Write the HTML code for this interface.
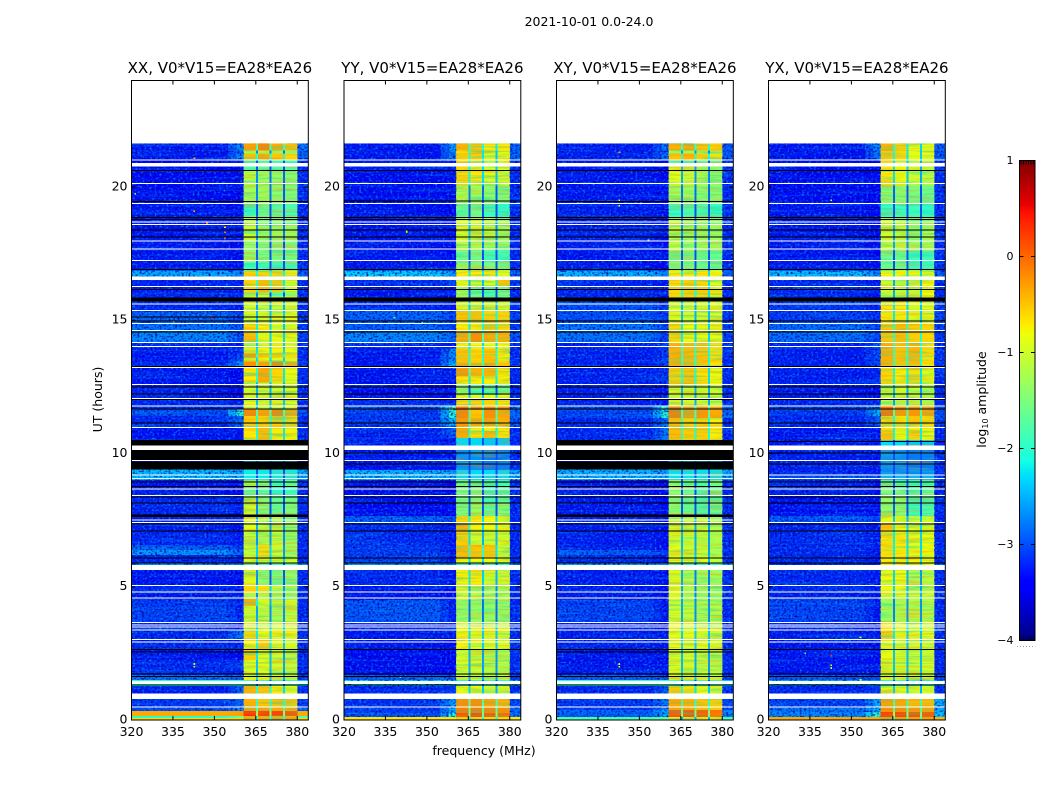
<!DOCTYPE html>
<html lang="en">
<head>
<meta charset="utf-8">
<title>2021-10-01 0.0-24.0 spectrogram</title>
<style>
html,body{margin:0;padding:0;background:#fff;}
svg{display:block;}
text{font-family:"DejaVu Sans","Liberation Sans",sans-serif;fill:#000;}
</style>
</head>
<body>
<svg id="chart" xmlns="http://www.w3.org/2000/svg" width="1050" height="800" viewBox="0 0 1050 800">
  <defs id="chart-defs">
    <filter id="speckLight" x="0" y="0" width="100%" height="100%" color-interpolation-filters="sRGB">
      <feTurbulence type="fractalNoise" baseFrequency="0.42 0.5" numOctaves="1" seed="4"/>
      <feColorMatrix type="matrix" values="0 0 0 0 0  0 0 0 0 0.55  0 0 0 0 1  3.0 0 0 0 -1.5"/>
    </filter>
    <filter id="speckDark" x="0" y="0" width="100%" height="100%" color-interpolation-filters="sRGB">
      <feTurbulence type="fractalNoise" baseFrequency="0.45 0.55" numOctaves="1" seed="11"/>
      <feColorMatrix type="matrix" values="0 0 0 0 0  0 0 0 0 0  0 0 0 0 0.6  0 3.0 0 0 -1.4"/>
    </filter>
    <filter id="bgStreak" x="0" y="0" width="100%" height="100%" color-interpolation-filters="sRGB">
      <feTurbulence type="fractalNoise" baseFrequency="0.01 0.4" numOctaves="2" seed="23"/>
      <feColorMatrix type="matrix" values="0 0 0 0 0  0 0 0 0 0.7  0 0 0 0 1  2.4 0 0 0 -1.15"/>
    </filter>
    <filter id="streakWarm" x="0" y="0" width="100%" height="100%" color-interpolation-filters="sRGB">
      <feTurbulence type="fractalNoise" baseFrequency="0.03 0.45" numOctaves="2" seed="7"/>
      <feColorMatrix type="matrix" values="0 0 0 0 1  0 0 0 0 0.55  0 0 0 0 0  3.0 0 0 0 -1.35"/>
    </filter>
    <filter id="streakCool" x="0" y="0" width="100%" height="100%" color-interpolation-filters="sRGB">
      <feTurbulence type="fractalNoise" baseFrequency="0.03 0.45" numOctaves="2" seed="31"/>
      <feColorMatrix type="matrix" values="0 0 0 0 0  0 0 0 0 0.85  0 0 0 0 0.75  3.0 0 0 0 -1.35"/>
    </filter>
  </defs>
  <text x="589" y="26" font-size="12.5" text-anchor="middle">2021-10-01 0.0-24.0</text>
  <text x="484" y="755" font-size="12.5" text-anchor="middle">frequency (MHz)</text>
  <text x="102" y="399.5" font-size="12.5" text-anchor="middle" transform="rotate(-90 102 399.5)">UT (hours)</text>
  <text x="986" y="399.5" font-size="12.5" text-anchor="middle" transform="rotate(-90 986 399.5)">log<tspan font-size="8" dy="2">10</tspan><tspan dy="-2"> amplitude</tspan></text>
  <g id="panels"></g>
  <g id="colorbar"></g>
</svg>
<script>
// ---------- chart data (hours, MHz, log10 amplitude) ----------
const panelNames = ["XX", "YY", "XY", "YX"];
const baselineLabel = "V0*V15=EA28*EA26";
const xTicks = [320, 335, 350, 365, 380];
const yTicks = [0, 5, 10, 15, 20];
const colorTicks = [-4, -3, -2, -1, 0, 1];
const colorTickLabels = ["\u22124", "\u22123", "\u22122", "\u22121", "0", "1"];
const colorMinorTicks = [0.1, 0.26, 0.42, 0.58, 0.74, 0.9];
const colorDomain = [-4, 1];
const xDomain = [320, 384];
const yDomain = [0, 24];
// frequency edges: background | shoulder ramp | shoulder | block1 | gap | block2 | gap | block3 | gap | block4 | tail
const channelEdges = [320, 355, 358, 360.6, 365.1, 365.8, 369.9, 370.6, 374.9, 375.6, 380, 384];
// index into channelEdges of the lower edge of each bright block
const blockSegments = [3, 5, 7, 9];

// flagged integrations, no data drawn (white) [low hour, high hour]
const whiteRows = [[20.97,21.03],[20.775,20.91],[20.10,20.15],[19.36,19.41],[18.66,18.71],[18.56,18.61],[17.95,18.0],[17.64,17.69],[17.21,17.26],[16.52,16.65],[16.24,16.29],[15.58,15.63],[15.33,15.38],[14.85,14.9],[14.58,14.63],[14.13,14.18],[13.98,14.03],[13.2,13.25],[12.56,12.61],[12.04,12.09],[11.76,11.81],[10.95,11.0],[10.125,10.31],[9.70,9.75],[9.15,9.21],[9.04,9.09],[8.63,8.68],[8.39,8.44],[7.39,7.44],[5.625,5.81],[5.01,5.06],[4.77,4.82],[4.54,4.59],[3.63,3.68],[3.54,3.59],[3.45,3.5],[3.35,3.4],[2.99,3.04],[2.89,2.94],[1.35,1.47],[0.79,1.0],[0.45,0.5]];
// zero-amplitude integrations (black) [low hour, high hour]
const blackRows = [[20.59,20.64],[18.82,18.87],[18.77,18.81],[18.35,18.4],[18.1,18.15],[16.88,16.93],[16.13,16.18],[15.71,15.85],[14.95,15.0],[14.54,14.58],[13.25,13.29],[12.47,12.52],[12.2,12.25],[12.02,12.04],[11.64,11.69],[11.11,11.16],[8.9,8.95],[8.74,8.79],[8.36,8.39],[8.12,8.17],[7.33,7.38],[7.06,7.11],[6.05,6.1],[5.86,5.91],[2.63,2.67],[1.69,1.74],[1.61,1.66],[1.28,1.33]];
const blackRowsXX = [[19.42,19.47],[10.31,10.5],[9.75,10.125],[9.41,9.7],[7.62,7.72],[2.62,2.67],[2.53,2.58],[15.1,15.14]];
const blackRowsYY = [[19.47,19.5],[9.98,10.03],[9.58,9.63]];
const blackRowsXY = [[19.42,19.47],[10.31,10.5],[9.75,10.125],[9.41,9.7],[7.62,7.72],[2.62,2.67],[2.53,2.58]];
const blackRowsYX = [[10.42,10.47],[9.98,10.03],[9.58,9.63]];
const extraWhiteXX = [[7.48,7.52]];
const extraWhiteYY = [];
const extraWhiteXY = [[7.48,7.52]];
const extraWhiteYX = [];

// rows: [low hour, high hour, background, shoulder, block1, block2, block3, block4, tail]
const levelsXX = [
[21.375,21.64,-3.1,-2.4,-0.3,-0.15,-0.35,-0.45,-2.6],
[21.26,21.375,-3.1,-2.6,-1.3,-1.2,-1.3,-1.4,-2.7],
[21.0,21.26,-3.1,-2.4,-0.5,-0.35,-0.5,-0.6,-2.7],
[20.625,21.0,-3.2,-3.1,-1.8,-1.7,-1.8,-1.8,-3],
[20.25,20.625,-3.2,-3.2,-1.1,-1.3,-1.35,-1.4,-3],
[19.39,20.25,-3.15,-3.2,-1.25,-1.25,-1.4,-1.5,-3],
[18.94,19.39,-3.1,-3.1,-1.9,-1.6,-1.7,-1.8,-3],
[18.56,18.94,-3.1,-3.1,-1.2,-1.5,-1.5,-1.6,-3.1],
[18.0,18.56,-3.1,-3.1,-1.05,-1.3,-1.3,-1.3,-3],
[17.175,18.0,-3.1,-3.1,-1.35,-1.5,-1.5,-1.5,-3],
[16.875,17.175,-3.1,-3.1,-1.9,-1.9,-2,-1.9,-3],
[16.54,16.875,-2.3,-2.4,-0.6,-0.6,-0.6,-0.7,-2.7],
[16.05,16.54,-3.05,-3.05,-0.6,-0.45,-0.55,-0.85,-3],
[15.9,16.05,-3,-3,-1.3,-1.2,-1.8,-1.4,-3],
[15.71,15.9,-3,-3,-0.85,-0.85,-0.9,-0.9,-3],
[15.34,15.71,-3,-3,-1.0,-1.1,-1.0,-1.0,-3],
[14.89,15.34,-2.7,-2.8,-0.9,-0.95,-0.9,-0.8,-2.9],
[14.59,14.89,-2.6,-2.7,-0.6,-0.7,-0.9,-0.9,-2.9],
[14.14,14.59,-2.5,-2.7,-0.45,-0.85,-0.8,-0.85,-2.9],
[13.95,14.14,-3,-3,-0.9,-0.9,-0.9,-0.9,-3],
[13.76,13.95,-3.1,-2.9,-0.7,-0.75,-0.75,-0.8,-3],
[13.61,13.76,-3.1,-2.7,-0.3,-0.5,-0.5,-0.6,-3],
[13.46,13.61,-3.1,-2.7,-0.8,-0.8,-0.8,-0.9,-3],
[13.24,13.46,-3,-2.3,-0.2,-0.3,-0.15,-0.4,-2.9],
[12.675,13.24,-3.1,-3.1,-0.7,-0.35,-0.6,-0.85,-3],
[12.08,12.675,-3.1,-3.1,-1,-1,-1,-1,-3],
[11.66,12.08,-3,-3,-0.85,-1,-0.9,-0.9,-3],
[11.4,11.66,-2.8,-2.0,-0.15,-0.3,-0.15,-0.35,-2.8],
[10.99,11.4,-3,-2.6,-0.55,-0.55,-0.55,-0.6,-3],
[10.5,10.99,-3.1,-3,-0.7,-0.45,-0.7,-0.75,-3],
[9.41,10.5,-3.1,-3.1,-2.4,-2.4,-2.4,-2.4,-3],
[9.0,9.41,-2.2,-2.2,-2.2,-2.2,-2.2,-2.2,-2.3],
[8.74,9.0,-3.1,-3.1,-1.2,-1.5,-1.9,-1.6,-3],
[8.4,8.74,-3.1,-3.1,-1.6,-1.7,-2,-1.9,-3],
[7.725,8.4,-3,-3,-1.0,-1.45,-1.65,-1.5,-3],
[7.05,7.725,-3.05,-3.05,-0.9,-1.1,-1.1,-1.3,-3],
[6.56,7.05,-3,-3,-1.1,-1.2,-1.1,-1.3,-3],
[6.38,6.56,-2.7,-2.8,-1.05,-0.65,-1,-1.25,-3],
[6.19,6.38,-2.4,-2.6,-1.05,-0.6,-1,-1.25,-3],
[6.075,6.19,-3,-3,-0.95,-0.7,-1,-1.2,-3],
[5.89,6.075,-3,-3,-0.85,-0.85,-0.85,-0.9,-3],
[5.625,5.89,-2.4,-2.4,-1.9,-1.9,-1.9,-1.9,-2.4],
[5.025,5.625,-3.1,-3.1,-0.9,-1.4,-1.5,-1.4,-3],
[4.76,5.025,-3,-3,-0.6,-0.65,-1,-1.25,-3],
[4.54,4.76,-3.1,-3.1,-1.2,-1.2,-1.3,-1.35,-3],
[4.275,4.54,-2.9,-3,-0.4,-0.9,-1.1,-0.95,-3],
[3.675,4.275,-2.85,-3,-1.0,-1.1,-1.25,-1.1,-3],
[3.375,3.675,-3,-3,-0.8,-0.9,-0.9,-0.9,-3],
[3.0,3.375,-3,-2.5,-0.6,-0.8,-0.8,-0.85,-3],
[2.625,3.0,-3,-3,-0.75,-0.55,-0.85,-0.95,-3],
[2.25,2.625,-3.1,-3.1,-0.55,-0.9,-1,-1.2,-3],
[1.875,2.25,-3,-2.8,-0.9,-0.9,-1,-1.1,-3],
[1.69,1.875,-3,-3,-1,-0.95,-1.1,-1.2,-3],
[1.5,1.69,-2.6,-2.6,-0.85,-0.85,-1,-1.1,-2.9],
[1.275,1.5,-2.0,-2.0,-1.8,-1.8,-1.8,-1.8,-2.2],
[0.79,1.275,-3.05,-2.6,-0.4,-0.5,-0.7,-0.9,-3],
[0.45,0.79,-2.9,-2.6,-0.4,-0.5,-0.5,-0.55,-2.9],
[0.34,0.45,-2.8,-2.4,-0.3,-0.3,-0.35,-0.35,-2.7],
[0.15,0.34,-0.35,-0.3,0.3,0.25,0.2,0.1,-0.35],
[0.075,0.15,-2.0,-1.6,-0.4,-0.4,-0.4,-0.4,-1.8],
[0,0.075,-0.6,-0.6,-0.3,-0.3,-0.3,-0.3,-0.6]];

const levelsYY = [
[21.375,21.64,-3.1,-2.3,-0.4,-0.5,-0.7,-0.7,-2.7],
[21.0,21.375,-3.1,-2.4,-0.6,-0.55,-0.9,-0.9,-2.7],
[20.625,21.0,-3.05,-3.0,-0.6,-0.7,-0.9,-0.9,-3],
[20.06,20.625,-3.15,-3.2,-0.6,-0.7,-0.9,-1.0,-3],
[19.39,20.06,-3.15,-3.2,-1.2,-1.3,-1.4,-1.5,-3],
[18.86,19.39,-3.1,-3.1,-1.7,-1.6,-1.9,-2.0,-3],
[18.0,18.86,-3.1,-3.1,-0.9,-0.95,-1.1,-1.3,-3],
[17.625,18.0,-3.1,-3.1,-1.1,-1.2,-1.3,-1.4,-3],
[17.175,17.625,-3.1,-3.1,-1.6,-1.6,-1.9,-1.9,-3],
[16.875,17.175,-3.1,-3.1,-1.3,-1.4,-1.5,-1.5,-3],
[16.54,16.875,-2.1,-2.3,-0.7,-0.7,-0.7,-0.9,-2.7],
[16.275,16.54,-2.95,-2.7,-0.9,-1.0,-0.9,-0.5,-3],
[15.75,16.275,-3.1,-3.1,-1.3,-1.6,-1.8,-1.6,-3],
[15.375,15.75,-3,-3,-0.9,-0.9,-1.0,-0.95,-3],
[14.96,15.375,-2.7,-2.8,-0.5,-0.5,-0.6,-0.6,-2.9],
[14.55,14.96,-2.7,-2.8,-0.7,-0.7,-0.55,-0.6,-2.9],
[14.175,14.55,-2.5,-2.6,-0.35,-0.2,-0.35,-0.4,-2.8],
[13.95,14.175,-3,-3,-0.8,-0.8,-0.8,-0.8,-3],
[13.425,13.95,-3.1,-2.4,-0.5,-0.6,-0.5,-0.7,-3],
[13.2,13.425,-3.1,-2.1,-0.35,-0.45,-0.35,-0.5,-2.9],
[12.9,13.2,-3.1,-3.1,-0.25,-0.4,-0.4,-0.7,-3],
[12.6,12.9,-3.1,-3.1,-0.7,-0.7,-0.7,-0.7,-3],
[12.19,12.6,-3.2,-3.2,-1.4,-1.7,-1.7,-1.6,-3],
[12.04,12.19,-3.1,-3.1,-0.8,-0.85,-0.8,-0.85,-3],
[11.775,12.04,-3,-2.9,-0.6,-0.6,-0.6,-0.65,-3],
[11.625,11.775,-2.8,-1.8,0.0,-0.2,-0.2,-0.25,-2.6],
[11.325,11.625,-2.9,-2.0,-0.15,-0.5,-0.2,-0.35,-2.7],
[11.025,11.325,-2.9,-2.1,-0.25,-0.35,-0.3,-0.4,-2.8],
[10.84,11.025,-3,-2.6,-0.35,-0.7,-0.7,-0.7,-3],
[10.575,10.84,-3.05,-2.7,-0.35,-0.65,-0.45,-0.65,-3],
[10.31,10.575,-3.1,-3.0,-2.3,-2.3,-2.4,-2.4,-3],
[9.375,10.31,-3.1,-3.0,-2.7,-2.7,-2.8,-2.8,-3],
[9.0,9.375,-2.25,-2.25,-2.3,-2.3,-2.3,-2.3,-2.3],
[8.74,9.0,-3.1,-3.1,-1.6,-1.7,-1.8,-1.9,-3],
[8.14,8.74,-3.15,-3.15,-1.5,-1.5,-1.9,-1.7,-3],
[7.65,8.14,-3.15,-3.15,-1.5,-1.3,-1.65,-1.45,-3],
[7.425,7.65,-2.7,-2.7,-0.6,-0.7,-0.8,-0.8,-3],
[7.125,7.425,-3,-3,-0.4,-0.75,-0.8,-0.8,-3],
[6.56,7.125,-3,-3,-0.55,-1,-1,-0.9,-3],
[6.075,6.56,-2.9,-3,-0.45,-0.5,-0.5,-1,-3],
[5.89,6.075,-2.9,-3,-0.8,-0.8,-0.8,-0.85,-3],
[5.625,5.89,-2.4,-2.4,-2.0,-2.0,-2.0,-2.0,-2.5],
[5.06,5.625,-3,-3,-0.75,-0.7,-1,-1,-3],
[4.5,5.06,-3.1,-3.1,-1,-1.1,-1.2,-1.2,-3],
[3.675,4.5,-2.75,-2.95,-1.35,-1.3,-1.35,-1.35,-3],
[3.375,3.675,-3.05,-3,-0.8,-0.9,-0.9,-0.9,-3],
[2.625,3.375,-3.1,-3.05,-0.75,-0.85,-0.85,-0.95,-3],
[1.69,2.625,-3.15,-3.1,-1,-1.05,-1.15,-1.15,-3],
[1.5,1.69,-2.7,-2.7,-1,-1,-1.1,-1.1,-2.9],
[1.275,1.5,-2.1,-2.1,-2.0,-2.0,-2.0,-2.0,-2.2],
[0.79,1.275,-3,-2.8,-0.8,-0.8,-1,-1,-3],
[0.45,0.79,-2.95,-2.3,-0.2,-0.2,-0.3,-0.4,-2.8],
[0.26,0.45,-2.9,-2.2,-0.1,-0.1,-0.15,-0.2,-2.7],
[0.11,0.26,-2.8,-2.0,0.1,0.15,0.1,0.0,-2.6],
[0.04,0.11,-0.7,-0.7,-0.6,-0.6,-0.6,-0.6,-0.7],
[0,0.04,-0.5,-0.5,-0.4,-0.4,-0.4,-0.4,-0.5]];

const levelsXY = [
[21.375,21.64,-3.05,-2.5,-0.4,-0.35,-0.5,-0.6,-2.8],
[21.26,21.375,-3.05,-2.7,-1.2,-1.1,-1.2,-1.3,-2.8],
[21.0,21.26,-3.05,-2.6,-0.5,-0.4,-0.55,-0.65,-2.8],
[20.775,21.0,-3.1,-3.1,-1.7,-1.7,-1.7,-1.7,-3],
[20.06,20.775,-3.1,-3.1,-0.9,-1.1,-1.2,-1.3,-3],
[19.39,20.06,-3.1,-3.1,-1.3,-1.3,-1.4,-1.4,-3],
[18.86,19.39,-3.05,-3.05,-1.9,-1.8,-1.8,-1.9,-3],
[17.625,18.86,-3.05,-3.05,-1.1,-1.3,-1.3,-1.3,-3],
[16.875,17.625,-3.1,-3.1,-1.5,-1.5,-1.6,-1.6,-3],
[16.54,16.875,-2.25,-2.4,-0.7,-0.7,-0.7,-0.8,-2.7],
[15.75,16.54,-3,-3,-0.6,-0.55,-0.6,-0.9,-3],
[14.925,15.75,-2.8,-2.85,-0.9,-1,-1,-0.95,-2.9],
[14.175,14.925,-2.6,-2.8,-0.6,-0.8,-0.85,-0.85,-2.9],
[13.31,14.175,-3.05,-2.8,-0.4,-0.45,-0.5,-0.65,-3],
[12.56,13.31,-3.05,-2.9,-0.55,-0.5,-0.65,-0.85,-3],
[11.81,12.56,-3.05,-3,-1.0,-1.0,-1.0,-1.05,-3],
[11.325,11.81,-2.85,-2.0,-0.1,-0.3,-0.25,-0.35,-2.7],
[10.5,11.325,-3,-2.5,-0.45,-0.55,-0.55,-0.7,-3],
[9.41,10.5,-3.1,-3.1,-2.4,-2.4,-2.4,-2.4,-3],
[9.0,9.41,-2.25,-2.25,-2.25,-2.25,-2.25,-2.25,-2.3],
[7.65,9.0,-3.1,-3.1,-1.35,-1.55,-1.8,-1.6,-3],
[6.375,7.65,-3.05,-3.05,-0.9,-1.05,-1.05,-1.2,-3],
[6.19,6.375,-2.7,-2.8,-0.9,-0.9,-1.0,-1.2,-3],
[5.89,6.19,-3,-3,-0.85,-0.85,-0.9,-1.1,-3],
[5.625,5.89,-2.3,-2.3,-2.0,-2.0,-2.0,-2.0,-2.4],
[4.5,5.625,-3.05,-3.05,-0.9,-1.2,-1.3,-1.3,-3],
[3.675,4.5,-2.85,-3,-1,-1.1,-1.25,-1.15,-3],
[2.625,3.675,-3.05,-3,-0.8,-0.85,-0.9,-0.95,-3],
[1.69,2.625,-3.1,-3.05,-0.9,-1,-1.1,-1.15,-3],
[1.5,1.69,-2.7,-2.7,-0.9,-0.9,-1,-1.1,-2.9],
[1.275,1.5,-2.0,-2.0,-1.9,-1.9,-1.9,-1.9,-2.2],
[0.79,1.275,-3,-2.6,-0.55,-0.65,-0.8,-0.95,-3],
[0.375,0.79,-2.9,-2.5,-0.35,-0.4,-0.5,-0.55,-2.85],
[0.11,0.375,-2.7,-2.2,0.1,0.1,0.05,-0.05,-2.5],
[0,0.11,-1.8,-1.6,-1,-1,-1,-1,-1.8]];

const levelsYX = [
[21.375,21.64,-3.1,-2.4,-0.4,-0.55,-0.8,-0.85,-2.7],
[21.0,21.375,-3.1,-2.5,-0.55,-0.6,-0.85,-0.9,-2.8],
[20.06,21.0,-3.15,-3.1,-0.7,-0.8,-1,-1.1,-3],
[19.39,20.06,-3.15,-3.15,-1.4,-1.4,-1.5,-1.6,-3],
[18.86,19.39,-3.1,-3.1,-1.9,-1.9,-1.9,-2,-3],
[17.625,18.86,-3.1,-3.1,-1,-1.1,-1.3,-1.2,-3],
[16.875,17.625,-3.1,-3.1,-1.6,-1.6,-1.9,-1.9,-3],
[16.54,16.875,-2.2,-2.4,-0.75,-0.75,-0.8,-0.9,-2.7],
[15.75,16.54,-3,-3,-1,-1.1,-1.1,-0.8,-3],
[14.925,15.75,-2.9,-2.9,-0.7,-0.7,-0.9,-0.9,-2.9],
[14.14,14.925,-2.65,-2.8,-0.5,-0.45,-0.55,-0.6,-2.9],
[13.31,14.14,-3.05,-2.7,-0.4,-0.5,-0.45,-0.65,-3],
[12.6,13.31,-3.05,-2.9,-0.6,-0.7,-0.65,-0.85,-3],
[12.0,12.6,-3.1,-3.1,-1,-1,-1.1,-1.2,-3],
[11.775,12.0,-3,-2.9,-1.1,-1.1,-1.1,-1.15,-3],
[11.4,11.775,-2.9,-2.2,-0.05,-0.25,-0.25,-0.3,-2.8],
[11.06,11.4,-3,-2.6,-0.6,-0.65,-0.5,-0.6,-2.9],
[10.875,11.06,-3.1,-2.9,-0.7,-0.7,-0.7,-0.7,-3],
[10.5,10.875,-3.1,-3.05,-0.5,-0.8,-0.6,-0.8,-3],
[10.31,10.5,-3.1,-3.05,-2.3,-2.3,-2.4,-2.4,-3],
[9.41,10.31,-3.05,-3.0,-2.7,-2.7,-2.8,-2.8,-3],
[9.19,9.41,-3,-3,-2.7,-2.7,-2.7,-2.7,-3],
[9.0,9.19,-2.8,-2.8,-2.5,-2.5,-2.5,-2.5,-2.9],
[8.66,9.0,-3,-3,-1.8,-1.8,-1.8,-1.8,-3],
[8.44,8.66,-3.05,-3.05,-1.5,-1.5,-1.6,-1.6,-3],
[7.65,8.44,-3.15,-3.15,-1.4,-1.4,-1.8,-1.75,-3],
[7.425,7.65,-2.75,-2.8,-0.9,-0.9,-1,-1,-3],
[7.125,7.425,-3.05,-3,-0.5,-0.85,-0.85,-0.85,-3],
[6.19,7.125,-3,-3,-0.65,-0.7,-0.85,-0.8,-3],
[5.81,6.19,-3,-3,-0.7,-0.7,-0.75,-0.8,-3],
[5.625,5.81,-2.9,-2.9,-1.9,-1.9,-1.9,-1.9,-2.9],
[4.875,5.625,-3,-3,-0.8,-0.8,-1.2,-1.1,-3],
[4.575,4.875,-3.05,-3,-0.85,-0.9,-1,-1,-3],
[3.675,4.575,-2.85,-3,-1.3,-1.2,-1.15,-1.2,-3],
[3.375,3.675,-3.05,-3,-0.7,-0.8,-0.85,-0.85,-3],
[3.0,3.375,-3.05,-3,-0.55,-0.85,-0.9,-0.9,-3],
[1.69,3.0,-3.1,-3.05,-0.85,-0.95,-1,-1.0,-3],
[1.5,1.69,-2.75,-2.7,-0.95,-0.95,-1,-1.05,-2.9],
[1.275,1.5,-2.3,-2.3,-2.0,-2.0,-2.0,-2.0,-2.4],
[0.79,1.275,-3,-2.8,-0.85,-0.85,-1,-1,-3],
[0.45,0.79,-2.85,-2.2,-0.3,-0.35,-0.45,-0.45,-2.3],
[0.3,0.45,-2.6,-2.2,-0.2,-0.2,-0.25,-0.3,-2.3],
[0.11,0.3,-2.5,-1.9,0.2,0.2,0.15,0.1,-2.2],
[0,0.11,-0.35,-0.35,-0.3,-0.3,-0.3,-0.3,-0.4]];

// bright outlier pixels: [hour, MHz, log10 amplitude]
const spikesXX = [[20.15,327.2,0.3],[21.08,342.5,-0.4],[18.5,353.5,-0.6],[18.3,353.5,0.0],[18.1,353.5,-0.3],[19.1,342.4,-0.5],[15.07,348.7,0.4],[18.65,347,-0.1],[2.0,342.4,-0.9],[2.1,342.4,-0.9],[14.95,335,-1.0],[19.75,321,-1.4]];
const spikesYY = [[20.15,327,0.3],[19.49,342.3,0.2],[18.3,342.4,-0.6],[18.35,342.4,-0.9],[15.1,338,-1.5],[14.9,348,-1.6],[1.6,340,-1.8]];
const spikesXY = [[21.3,342.5,-0.3],[19.5,342.4,-1.0],[19.3,342.4,-0.8],[19.4,327.4,-1],[2.0,342.4,-0.7],[2.1,342.4,-1.0],[18.0,353,-1.2]];
const spikesYX = [[2.43,342.4,0.3],[2.05,342.4,-0.8],[1.95,342.4,-0.9],[20.15,327,-1.3],[19.5,342.4,-0.9],[3.1,353,-1.0],[1.5,353,-1.3],[2.5,333,-1.8]];

const levelTables = [levelsXX, levelsYY, levelsXY, levelsYX];
const spikeTables = [spikesXX, spikesYY, spikesXY, spikesYX];
const blackTables = [blackRowsXX, blackRowsYY, blackRowsXY, blackRowsYX];
const whiteTables = [extraWhiteXX, extraWhiteYY, extraWhiteXY, extraWhiteYX];

// ---------- layout ----------
const panelLeft = [131.5, 344, 556.5, 768.5];
const panelWidth = 176.8;
const plotTop = 80.5;
const plotBottom = 720;
const barLeft = 1019.5;
const barRight = 1035;
const barTop = 160.5;
const barBottom = 640.5;
const NS = "http://www.w3.org/2000/svg";
const panelsGroup = document.getElementById("panels");
const colorbarGroup = document.getElementById("colorbar");
const chartDefs = document.getElementById("chart-defs");

function yScale(h) {
  return plotBottom - (h - yDomain[0]) / (yDomain[1] - yDomain[0]) * (plotBottom - plotTop);
}
function xScale(f, left) {
  return left + (f - xDomain[0]) / (xDomain[1] - xDomain[0]) * panelWidth;
}
function cScale(v) {
  return barBottom - (v - colorDomain[0]) / (colorDomain[1] - colorDomain[0]) * (barBottom - barTop);
}
function ramp(t, pts) {
  for (let i = 1; i < pts.length; i++) {
    if (t <= pts[i][0]) {
      const a = pts[i - 1], b = pts[i];
      return a[1] + (b[1] - a[1]) * (t - a[0]) / (b[0] - a[0]);
    }
  }
  return pts[pts.length - 1][1];
}
function jet(v) {
  const t = Math.max(0, Math.min(1, (v - colorDomain[0]) / (colorDomain[1] - colorDomain[0])));
  const r = ramp(t, [[0,0],[0.35,0],[0.66,1],[0.89,1],[1,0.5]]);
  const g = ramp(t, [[0,0],[0.125,0],[0.375,1],[0.64,1],[0.91,0],[1,0]]);
  const b = ramp(t, [[0,0.5],[0.11,1],[0.34,1],[0.65,0],[1,0]]);
  return "rgb(" + Math.round(r * 255) + "," + Math.round(g * 255) + "," + Math.round(b * 255) + ")";
}
function shape(parent, tag, attrs) {
  const el = document.createElementNS(NS, tag);
  for (const k in attrs) el.setAttribute(k, attrs[k]);
  parent.appendChild(el);
  return el;
}
function floorLevel(v, offset) {
  return v < -2 ? v + offset : v;
}
function cellLevel(row, seg) {
  // row: low, high, bg, shoulder, b1..b4, tail  seg: 0..10
  const bg = floorLevel(row[2], -0.2);
  const sh = floorLevel(row[3], -0.3);
  if (seg === 0) return bg;
  if (seg === 1) return (bg + sh) / 2;
  if (seg === 2) return sh;
  if (seg === 3) return row[4];
  if (seg === 5) return row[5];
  if (seg === 7) return row[6];
  if (seg === 9) return row[7];
  if (seg === 10) return floorLevel(row[8], -0.2);
  const neighbours = seg === 4 ? row[4] + row[5] : seg === 6 ? row[5] + row[6] : row[6] + row[7];
  return Math.max(-3, neighbours / 2 - 1.5);
}

panelNames.forEach(function (name, p) {
  const left = panelLeft[p];
  const right = left + panelWidth;
  const g = shape(panelsGroup, "g", {});
  
  

  const cells = shape(g, "g", { "shape-rendering": "crispEdges" });
  
  

  levelTables[p].forEach(function (row) {
    for (let s = 0; s < channelEdges.length - 1; s++) {
      const x0 = xScale(channelEdges[s], left);
      const x1 = xScale(channelEdges[s + 1], left);
      const cell = shape(cells, "rect", {
        x: x0.toFixed(2),
        y: yScale(row[1]).toFixed(2),
        width: (x1 - x0).toFixed(2),
        height: (yScale(row[0]) - yScale(row[1])).toFixed(2),
        fill: jet(cellLevel(row, s))
      });
      
      
    }
  });

  // speckle applies only to rows whose background is at the noise floor
  const clip = shape(chartDefs, "clipPath", { id: "floor-clip-" + p });
  levelTables[p].forEach(function (row) {
    if (row[2] < -2) {
      shape(clip, "rect", {
        x: left,
        y: yScale(row[1]).toFixed(2),
        width: panelWidth,
        height: (yScale(row[0]) - yScale(row[1])).toFixed(2)
      });
    }
  });
  const dataTopHour = levelTables[p][0][1];
  const bgX = xScale(channelEdges[0], left);
  const blockX0 = xScale(channelEdges[3], left);
  const blockX1 = xScale(channelEdges[10], left);
  const topY = yScale(dataTopHour);
  const dataH = plotBottom - topY;
  const speckle = shape(g, "g", { "clip-path": "url(#floor-clip-" + p + ")" });
  
  
  [["bgStreak", 0.4], ["speckLight", 1], ["speckDark", 1]].forEach(function (f) {
    const left1 = shape(speckle, "rect", { x: bgX, y: topY, width: blockX0 - bgX, height: dataH, filter: "url(#" + f[0] + ")", opacity: f[1] });
    
    
    const right1 = shape(speckle, "rect", { x: blockX1, y: topY, width: right - blockX1, height: dataH, filter: "url(#" + f[0] + ")", opacity: f[1] });
    
    
  });
  // subtle row-to-row banding inside each bright block; the gaps stay clean
  blockSegments.forEach(function (seg) {
    const sx0 = xScale(channelEdges[seg], left);
    const sx1 = xScale(channelEdges[seg + 1], left);
    ["streakWarm", "streakCool"].forEach(function (f) {
      const st = shape(g, "rect", { x: sx0, y: topY, width: sx1 - sx0, height: dataH, filter: "url(#" + f + ")", opacity: 0.4 });
      
      
    });
  });

  spikeTables[p].forEach(function (s) {
    const sp = shape(g, "rect", {
      x: xScale(s[1], left).toFixed(2),
      y: yScale(s[0] + 0.03).toFixed(2),
      width: 1.8,
      height: 1.6,
      fill: jet(s[2]),
      "shape-rendering": "crispEdges"
    });
    
    
  });

  const flags = shape(g, "g", { "shape-rendering": "crispEdges" });
  
  
  blackRows.concat(blackTables[p]).forEach(function (r) {
    const span = yScale(r[0]) - yScale(r[1]);
    const b = shape(flags, "rect", {
      x: left, y: yScale(r[1]).toFixed(2), width: panelWidth,
      height: (span < 1.6 ? 1 : span).toFixed(2), fill: "#000"
    });
    
    
  });
  whiteRows.concat(whiteTables[p]).forEach(function (r) {
    const span = yScale(r[0]) - yScale(r[1]);
    const w = shape(flags, "rect", {
      x: left, y: yScale(r[1]).toFixed(2), width: panelWidth,
      height: (span < 1.6 ? 1 : span).toFixed(2), fill: "#fff"
    });
    
    
  });

  // frame
  const frame = shape(g, "rect", {
    x: left, y: plotTop, width: panelWidth, height: plotBottom - plotTop,
    fill: "none", stroke: "#000", "stroke-width": 1
  });
  
  

  // x ticks and labels
  xTicks.forEach(function (t) {
    const x = xScale(t, left);
    const t1 = shape(g, "line", { x1: x, x2: x, y1: plotBottom, y2: plotBottom - 4, stroke: "#000", "stroke-width": 1 });
    
    
    const t2 = shape(g, "line", { x1: x, x2: x, y1: plotTop, y2: plotTop + 4, stroke: "#000", "stroke-width": 1 });
    
    
    const lab = shape(g, "text", { x: x, y: 736, "font-size": 12.5, "text-anchor": "middle" });
    
    
    lab.textContent = String(t);
  });

  // y ticks and labels
  yTicks.forEach(function (t) {
    const y = yScale(t);
    const t1 = shape(g, "line", { x1: left, x2: left + 4, y1: y, y2: y, stroke: "#000", "stroke-width": 1 });
    
    
    const t2 = shape(g, "line", { x1: right, x2: right - 4, y1: y, y2: y, stroke: "#000", "stroke-width": 1 });
    
    
    const lab = shape(g, "text", { x: left - 4, y: y + 3.3, "font-size": 12.5, "text-anchor": "end" });
    
    
    lab.textContent = String(t);
  });

  const title = shape(g, "text", { x: left + panelWidth / 2, y: 73, "font-size": 15, "text-anchor": "middle" });
  
  
  title.textContent = name + ", " + baselineLabel;
});

// ---------- colorbar ----------
const barSteps = shape(colorbarGroup, "g", { "shape-rendering": "crispEdges" });


for (let v = colorDomain[0]; v < colorDomain[1]; v += 0.02) {
  const step = shape(barSteps, "rect", {
    x: barLeft, y: cScale(v + 0.02).toFixed(2), width: barRight - barLeft,
    height: (cScale(v) - cScale(v + 0.02) + 0.6).toFixed(2), fill: jet(v + 0.01)
  });
  
  
}
const barFrame = shape(colorbarGroup, "rect", {
  x: barLeft, y: barTop, width: barRight - barLeft, height: barBottom - barTop,
  fill: "none", stroke: "#000", "stroke-width": 1
});


colorTicks.forEach(function (t, i) {
  const y = cScale(t);
  const a = shape(colorbarGroup, "line", { x1: barLeft, x2: barLeft + 4, y1: y, y2: y, stroke: "#000", "stroke-width": 1 });
  
  
  const b = shape(colorbarGroup, "line", { x1: barRight, x2: barRight - 4, y1: y, y2: y, stroke: "#000", "stroke-width": 1 });
  
  
  const lab = shape(colorbarGroup, "text", { x: 1013.5, y: y + 3.5, "font-size": 11, "text-anchor": "end" });
  
  
  lab.textContent = colorTickLabels[i];
});
colorMinorTicks.forEach(function (m) {
  const x = barLeft + m * (barRight - barLeft);
  const a = shape(colorbarGroup, "line", { x1: x, x2: x, y1: barTop, y2: barTop + 4, stroke: "#000", "stroke-width": 0.8 });
  
  
  const b = shape(colorbarGroup, "line", { x1: x, x2: x, y1: barBottom, y2: barBottom - 4, stroke: "#000", "stroke-width": 0.8 });
  
  
});
const dots = shape(colorbarGroup, "line", {
  x1: 1017, x2: 1035.5, y1: 646.5, y2: 646.5, stroke: "#999", "stroke-width": 1, "stroke-dasharray": "1 2"
});


</script>
</body>
</html>
